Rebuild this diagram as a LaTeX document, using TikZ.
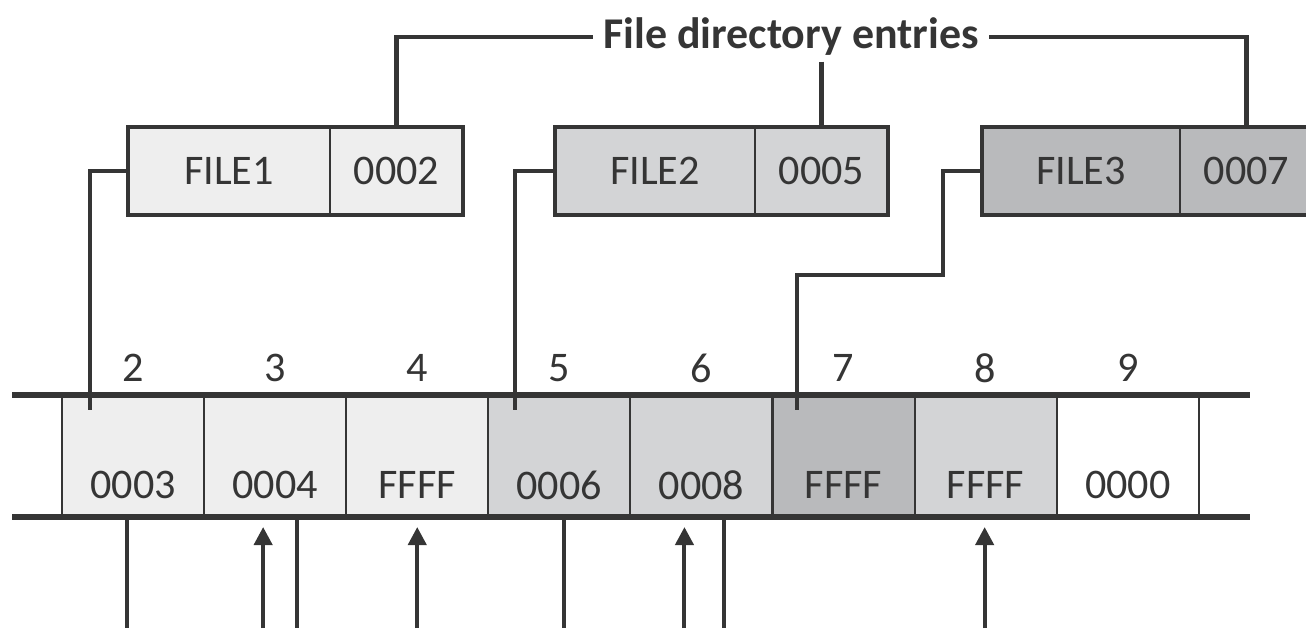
\documentclass[tikz,border=0pt]{standalone}
\usepackage{fontspec}
\setmainfont{Carlito}
\usepackage{tikz}
\usetikzlibrary{calc,positioning,arrows.meta}

\definecolor{ink}{HTML}{353535}
\definecolor{lite}{HTML}{EEEEEE}
\definecolor{mid}{HTML}{D3D4D6}
\definecolor{dark}{HTML}{B9BABC}

\tikzset{
	namebox/.style={draw=ink, line width=0.6pt, minimum height=8.8mm, inner sep=0pt, outer sep=0pt},
	ptrbox/.style={namebox, minimum width=13.3mm},
	cellbox/.style={draw=ink, line width=0.6pt, minimum width=14.21mm, minimum height=12.2mm, inner sep=0pt, outer sep=0pt},
	frame/.style={draw=ink, line width=1.15pt},
	wire/.style={draw=ink, line width=1.15pt},
	rail/.style={draw=ink, line width=1.45pt},
	uparrow/.style={draw=ink, line width=1.15pt, -{Triangle[width=1.8mm, length=1.8mm]}},
}

\begin{document}
\begin{tikzpicture}[x=0.1mm, y=-0.1mm, line join=miter, font=\fontsize{12}{14}\selectfont, text=ink]
	
	\useasboundingbox (0,0) rectangle (1306,628);
	\clip (0,0) rectangle (1306,628);
	
	%====================
	% 1) directory entries
	%====================
	\node[namebox, fill=lite, minimum width=20.2mm] (file1) at (229,171) {FILE1};
	\node[ptrbox, fill=lite, right=0pt of file1] (ptr1) {0002};
	
	\node[namebox, fill=mid, minimum width=20.0mm] (file2) at (655,171) {FILE2};
	\node[ptrbox, fill=mid, right=0pt of file2] (ptr2) {0005};
	
	\node[namebox, fill=dark, minimum width=19.8mm] (file3) at (1081,171) {FILE3};
	\node[ptrbox, fill=dark, right=0pt of file3] (ptr3) {0007};
	
	\draw[frame] (file1.north west) rectangle (ptr1.south east);
	\draw[frame] (file2.north west) rectangle (ptr2.south east);
	\draw[frame] (file3.north west) rectangle (ptr3.south east);
	
	%====================
	% 2) title and its leads
	%====================
	\node[font=\fontsize{12.5}{14}\selectfont\bfseries, inner xsep=1mm, inner ysep=0.5mm] (title) at (791,37) {File directory entries};
	
	\draw[wire] (title.west) -| (ptr1.north);
	\draw[wire] (title.east) -| (ptr3.north);
	\draw[wire] (title.south -| ptr2.north) -- (ptr2.north);
	
	%====================
	% 3) FAT cells 2 .. 9
	%====================
	\foreach \i/\v/\c [count=\k from 0] in {2/0003/lite, 3/0004/lite, 4/FFFF/lite, 5/0006/mid,
		6/0008/mid, 7/FFFF/dark, 8/FFFF/mid, 9/0000/white}
	{
		\node[cellbox, fill=\c] (c\i) at ({133.05+142.1*\k},456) {};
		\node (v\i) at ($(c\i.south)+(0,-32)$) {\v};
		\node (n\i) at ($(c\i.north)+(0,-27)$) {\i};
	}
	
	% rails above and below the cells
	\coordinate (railTL) at (12,395);
	\coordinate (railTR) at (1250,395);
	\draw[rail] (railTL) -- (railTR);
	\draw[rail] (railTL |- c2.south) -- (railTR |- c2.south);
	
	%====================
	% 4) entry -> first cluster
	%====================
	\coordinate (hit2) at ($(c2.north)+(-43,15)$);
	\coordinate (hit5) at ($(c5.north)+(-44,15)$);
	\coordinate (hit7) at ($(c7.north)+(-47,15)$);
	\coordinate (bend3) at (943,275);
	
	\draw[wire] (file1.west) -| (hit2);
	\draw[wire] (file2.west) -| (hit5);
	\draw[wire] (file3.west) -| (bend3) -| (hit7);
	
	%====================
	% 5) chain links below the cells
	%====================
	\draw[wire] ($(c2.south)+(-6,0)$) -- ++(0,111);
	\draw[wire] ($(c3.south)+(22,0)$) -- ++(0,111);
	\draw[wire] ($(c5.south)+(5,0)$) -- ++(0,111);
	\draw[wire] ($(c6.south)+(23,0)$) -- ++(0,111);
	
	\draw[uparrow] ($(c3.south)+(-12,111)$) -- ($(c3.south)+(-12,10)$);
	\draw[uparrow] ($(c4.south)+(0,111)$) -- ($(c4.south)+(0,10)$);
	\draw[uparrow] ($(c6.south)+(-17,111)$) -- ($(c6.south)+(-17,10)$);
	\draw[uparrow] ($(c8.south)+(-1,111)$) -- ($(c8.south)+(-1,10)$);
	
\end{tikzpicture}
\end{document}
